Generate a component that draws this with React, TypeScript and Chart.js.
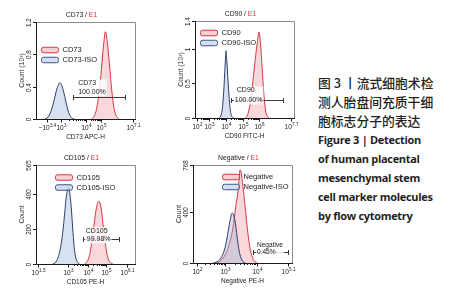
import React, { useEffect, useRef } from 'react';
import { Chart, registerables } from 'chart.js';

Chart.register(...registerables);

// ---------------- data ----------------
// x values are display channels (0-100 across the axis), y values are counts
const cd73IsoX = [9, 11, 13, 15, 17, 19, 21, 23, 24, 25, 27, 29, 31, 33, 35, 37, 39];
const cd73IsoY = [0, 0.01, 0.04, 0.09, 0.17, 0.27, 0.37, 0.43, 0.45, 0.44, 0.38, 0.28, 0.17, 0.08, 0.03, 0.005, 0];
const cd73X = [56, 58, 60, 62, 64, 66, 67.5, 69, 70, 71, 72.5, 74, 76, 78, 80, 82, 84];
const cd73Y = [0, 0.02, 0.07, 0.18, 0.36, 0.6, 0.82, 1.0, 1.08, 1.05, 0.9, 0.7, 0.42, 0.2, 0.07, 0.02, 0];
const cd73YTicks = [0, 0.4, 0.8, 1.2];
const cd73XTickPos = [11, 25.3, 50.5, 65.7, 98];
const cd73XTickLabels = ['-10^3.4', '10^3', '10^4', '10^5', '10^7.1'];
const cd73Gate = [37.7, 89.9];
const cd73GateLevel = 0.267;
const cd73GateText = ['CD73', '100.00%'];

const cd90IsoX = [24, 26, 27.5, 29, 30.5, 31.3, 32, 33.5, 35, 36.5, 38, 39];
const cd90IsoY = [0, 0.03, 0.12, 0.38, 0.78, 0.97, 0.86, 0.5, 0.2, 0.05, 0.01, 0];
const cd90X = [51, 53, 55, 57, 59, 61, 63, 64.6, 66, 67.5, 69, 70.5, 72, 74, 75];
const cd90Y = [0, 0.04, 0.15, 0.35, 0.6, 0.86, 1.1, 1.24, 1.1, 0.8, 0.45, 0.2, 0.06, 0.01, 0];
const cd90YTicks = [0, 0.5, 1, 1.4];
const cd90XTickPos = [2.3, 14, 31.3, 48.5, 64.6, 97];
const cd90XTickLabels = ['10^2', '10^3', '10^4', '10^5', '10^6', '10^7.7'];
const cd90Gate = [36, 89.2];
const cd90GateLevel = 0.255;
const cd90GateText = ['CD90', '100.00%'];

const cd105IsoX = [17, 19, 21, 23, 25, 27, 29, 30.5, 32, 33, 34, 35.5, 37, 38.5, 40, 42, 44];
const cd105IsoY = [0, 5, 20, 50, 100, 180, 290, 380, 425, 434, 410, 330, 210, 100, 40, 10, 0];
const cd105X = [49, 51, 53, 55, 57, 59, 61, 62.5, 63.6, 65, 66.5, 68, 70, 72, 74, 76, 78];
const cd105Y = [0, 8, 30, 75, 150, 240, 320, 352, 358, 342, 290, 210, 120, 50, 15, 3, 0];
const cd105YTicks = [0, 200, 400, 565];
const cd105XTickPos = [2, 32, 52.5, 70.7, 92.4];
const cd105XTickLabels = ['10^1.5', '10^3', '10^4', '10^5', '10^6.1'];
const cd105Gate = [47.2, 83.8];
const cd105GateLevel = 143;
const cd105GateText = ['CD105', '99.98%'];

const negIsoX = [20, 23, 26, 29, 32, 34, 36, 38, 39.4, 41, 42.5, 44, 45.5, 47, 49, 51, 53];
const negIsoY = [0, 5, 20, 50, 110, 180, 270, 355, 390, 378, 325, 240, 150, 80, 30, 8, 0];
const negX = [22, 25, 28, 31, 34, 37, 40, 42, 43.5, 45, 46.5, 47.5, 48.5, 50, 52, 54, 56, 58, 60, 62, 65];
const negY = [0, 5, 20, 45, 90, 160, 260, 370, 460, 530, 650, 730, 715, 630, 490, 335, 200, 100, 45, 15, 0];
const negYTicks = [0, 400, 768];
const negXTickPos = [4, 32.3, 64.6, 96];
const negXTickLabels = ['10^2', '10^3', '10^4', '10^5.1'];
const negGate = [60.9, 96.3];
const negGateLevel = 84;
const negGateText = ['Negative', '0.45%'];

const captionCn = ['图 3 丨流式细胞术检', '测人胎盘间充质干细', '胞标志分子的表达'];
const captionEn = ['Figure 3 | Detection', 'of human placental', 'mesenchymal stem', 'cell marker molecules', 'by flow cytometry'];

// ---------------- styles ----------------
const FONT = '"Liberation Sans", Arial, Helvetica, sans-serif';
const RED_LINE = '#d8353f';
const RED_FILL = 'rgba(238, 130, 140, 0.32)';
const BLUE_LINE = '#2a3d6b';
const BLUE_FILL = 'rgba(150, 175, 215, 0.38)';
const LEG_RED_FILL = 'rgba(242, 170, 176, 0.55)';
const LEG_BLUE_FILL = 'rgba(196, 210, 234, 0.7)';

interface PanelCfg {
  left: number; top: number; w: number; h: number;
  plot: [number, number, number, number];
  marker: string; xTitle: string; yTitle: string;
  yMax: number; yTicks: number[];
  xTickPos: number[]; xTickLabels: string[];
  posX: number[]; posY: number[]; isoX: number[]; isoY: number[];
  gate: number[]; gateLevel: number; gateText: string[];
  legendDx: number; legendDy: number;
  textDx: number[]; textDy: number[]; textSize: number;
}

const panels: PanelCfg[] = [
  {
    left: 0, top: 0, w: 160, h: 145, plot: [36, 22, 135, 119],
    marker: 'CD73', xTitle: 'CD73 APC-H', yTitle: 'Count (10³)',
    yMax: 1.2, yTicks: cd73YTicks, xTickPos: cd73XTickPos, xTickLabels: cd73XTickLabels,
    posX: cd73X, posY: cd73Y, isoX: cd73IsoX, isoY: cd73IsoY,
    gate: cd73Gate, gateLevel: cd73GateLevel, gateText: cd73GateText,
    legendDx: 5, legendDy: 28, textDx: [4.7, 4.7], textDy: [-14.4, -5], textSize: 7,
  },
  {
    left: 160, top: 0, w: 150, h: 145, plot: [35, 21, 134, 118],
    marker: 'CD90', xTitle: 'CD90 FITC-H', yTitle: 'Count (10³)',
    yMax: 1.4, yTicks: cd90YTicks, xTickPos: cd90XTickPos, xTickLabels: cd90XTickLabels,
    posX: cd90X, posY: cd90Y, isoX: cd90IsoX, isoY: cd90IsoY,
    gate: cd90Gate, gateLevel: cd90GateLevel, gateText: cd90GateText,
    legendDx: 5, legendDy: 12, textDx: [5.3, 3.3], textDy: [-10, 0], textSize: 7,
  },
  {
    left: 0, top: 145, w: 160, h: 155, plot: [36, 20, 135, 119],
    marker: 'CD105', xTitle: 'CD105 PE-H', yTitle: 'Count',
    yMax: 565, yTicks: cd105YTicks, xTickPos: cd105XTickPos, xTickLabels: cd105XTickLabels,
    posX: cd105X, posY: cd105Y, isoX: cd105IsoX, isoY: cd105IsoY,
    gate: cd105Gate, gateLevel: cd105GateLevel, gateText: cd105GateText,
    legendDx: 19, legendDy: 12.5, textDx: [2.3, 3.3], textDy: [-8.6, 0], textSize: 7,
  },
  {
    left: 160, top: 145, w: 150, h: 155, plot: [33, 20, 132, 118],
    marker: 'Negative', xTitle: 'Negative PE-H', yTitle: 'Count',
    yMax: 768, yTicks: negYTicks, xTickPos: negXTickPos, xTickLabels: negXTickLabels,
    posX: negX, posY: negY, isoX: negIsoX, isoY: negIsoY,
    gate: negGate, gateLevel: negGateLevel, gateText: negGateText,
    legendDx: 29, legendDy: 12, textDx: [3.4, 3.4], textDy: [-7.3, 0], textSize: 6.6,
  },
];

function drawPow(ctx: CanvasRenderingContext2D, label: string, cx: number, cy: number) {
  const parts = label.split('^');
  const b = parts[0].replace('-', '−');
  const e = parts[1] || '';
  ctx.font = `6.5px ${FONT}`;
  const wb = ctx.measureText(b).width;
  ctx.font = `4.6px ${FONT}`;
  const we = e ? ctx.measureText(e).width + 0.3 : 0;
  const x0 = cx - (wb + we) / 2;
  ctx.textAlign = 'left';
  ctx.textBaseline = 'middle';
  ctx.font = `6.5px ${FONT}`;
  ctx.fillText(b, x0, cy);
  if (e) {
    ctx.font = `4.6px ${FONT}`;
    ctx.fillText(e, x0 + wb + 0.3, cy - 2.7);
  }
}

function makePlugin(p: PanelCfg) {
  return {
    id: 'panelDeco' + p.marker,
    afterDraw(chart: any) {
      const ctx: CanvasRenderingContext2D = chart.ctx;
      const { left, right, top, bottom } = chart.chartArea;
      const xs = chart.scales.x;
      const ys = chart.scales.y;
      ctx.save();
      ctx.lineWidth = 1;
      // frame
      ctx.strokeStyle = '#8c8c8c';
      ctx.beginPath();
      ctx.moveTo(left, top + 0.5);
      ctx.lineTo(right + 0.5, top + 0.5);
      ctx.lineTo(right + 0.5, bottom);
      ctx.stroke();
      ctx.strokeStyle = '#1a1a1a';
      ctx.beginPath();
      ctx.moveTo(left + 0.5, top);
      ctx.lineTo(left + 0.5, bottom + 0.5);
      ctx.lineTo(right + 1, bottom + 0.5);
      ctx.stroke();

      ctx.fillStyle = '#1a1a1a';
      // y ticks
      p.yTicks.forEach((v) => {
        const py = Math.round(ys.getPixelForValue(v)) + 0.5;
        ctx.beginPath();
        ctx.moveTo(left - 3, py);
        ctx.lineTo(left + 0.5, py);
        ctx.stroke();
        ctx.save();
        ctx.translate(left - 6.3, py);
        ctx.rotate(-Math.PI / 2);
        ctx.font = `6.3px ${FONT}`;
        ctx.textAlign = 'center';
        ctx.textBaseline = 'middle';
        ctx.fillText(String(v), 0, 0);
        ctx.restore();
      });
      // x ticks (major + minor decade subdivisions)
      p.xTickPos.forEach((v, i) => {
        const px = Math.round(xs.getPixelForValue(v)) + 0.5;
        ctx.beginPath();
        ctx.moveTo(px, bottom + 0.5);
        ctx.lineTo(px, bottom + 3.5);
        ctx.stroke();
        drawPow(ctx, p.xTickLabels[i], px, bottom + 9.5);
        const e0 = p.xTickLabels[i].split('^')[1];
        const nxt = p.xTickLabels[i + 1];
        if (nxt && !p.xTickLabels[i].startsWith('-')) {
          const e1 = nxt.split('^')[1];
          if (e0 && e1 && Number.isInteger(Number(e0)) && Number.isInteger(Number(e1))) {
            const a = v;
            const b = p.xTickPos[i + 1];
            for (let k = 2; k <= 9; k++) {
              const mv = a + (b - a) * Math.log10(k);
              const mx = Math.round(xs.getPixelForValue(mv)) + 0.5;
              ctx.beginPath();
              ctx.moveTo(mx, bottom + 0.5);
              ctx.lineTo(mx, bottom + 2);
              ctx.stroke();
            }
          }
        }
      });
      // axis titles
      ctx.font = `6.5px ${FONT}`;
      ctx.textAlign = 'center';
      ctx.textBaseline = 'middle';
      ctx.fillText(p.xTitle, (left + right) / 2, bottom + 18.5);
      ctx.save();
      ctx.translate(left - 13.8, (top + bottom) / 2);
      ctx.rotate(-Math.PI / 2);
      ctx.font = `6.8px ${FONT}`;
      ctx.fillText(p.yTitle, 0, 0);
      ctx.restore();
      // chart title "X / E1"
      ctx.font = `6.8px ${FONT}`;
      const t1 = p.marker + ' / ';
      const t2 = 'E1';
      const w1 = ctx.measureText(t1).width;
      const w2 = ctx.measureText(t2).width;
      const tx = (left + right) / 2 - 4 - (w1 + w2) / 2;
      ctx.textAlign = 'left';
      ctx.fillStyle = '#1a1a1a';
      ctx.fillText(t1, tx, top - 6.5);
      ctx.fillStyle = '#e0303a';
      ctx.fillText(t2, tx + w1, top - 6.5);

      // legend
      const rows = [
        { label: p.marker, stroke: RED_LINE, fill: LEG_RED_FILL },
        { label: p.marker + '-ISO', stroke: '#3b5586', fill: LEG_BLUE_FILL },
      ];
      rows.forEach((r, i) => {
        const bx = left + p.legendDx + 0.5;
        const by = top + p.legendDy + i * 10;
        ctx.beginPath();
        (ctx as any).roundRect(bx, by - 2.75, 17, 5.5, 2);
        ctx.fillStyle = r.fill;
        ctx.fill();
        ctx.strokeStyle = r.stroke;
        ctx.stroke();
        ctx.fillStyle = '#1a1a1a';
        ctx.font = `7.5px ${FONT}`;
        ctx.textAlign = 'left';
        ctx.textBaseline = 'middle';
        ctx.fillText(r.label, bx + 21, by + 0.3);
      });

      // gate
      const gx1 = Math.round(xs.getPixelForValue(p.gate[0])) + 0.5;
      const gx2 = Math.round(xs.getPixelForValue(p.gate[1])) + 0.5;
      const gy = Math.round(ys.getPixelForValue(p.gateLevel)) + 0.5;
      ctx.strokeStyle = '#3a3a3a';
      ctx.beginPath();
      ctx.moveTo(gx1, gy);
      ctx.lineTo(gx2, gy);
      ctx.moveTo(gx1, gy - 2.5);
      ctx.lineTo(gx1, gy + 2.5);
      ctx.moveTo(gx2, gy - 2.5);
      ctx.lineTo(gx2, gy + 2.5);
      ctx.stroke();
      ctx.font = `${p.textSize}px ${FONT}`;
      const tws = p.gateText.map((s) => ctx.measureText(s).width);
      const bxl = gx1 + Math.min(p.textDx[0], p.textDx[1]) - 1;
      const bxr = gx1 + Math.max(p.textDx[0] + tws[0], p.textDx[1] + tws[1]) + 1;
      const byt = gy + p.textDy[0] - p.textSize * 0.55;
      const byb = gy + p.textDy[1] + p.textSize * 0.55;
      ctx.fillStyle = 'rgba(255,255,255,0.82)';
      ctx.fillRect(bxl, byt, bxr - bxl, byb - byt);
      ctx.fillStyle = '#1a1a1a';
      ctx.textAlign = 'left';
      ctx.textBaseline = 'middle';
      p.gateText.forEach((s, i) => {
        ctx.fillText(s, gx1 + p.textDx[i], gy + p.textDy[i]);
      });
      ctx.restore();
    },
  };
}

function Panel({ p }: { p: PanelCfg }) {
  const ref = useRef<HTMLCanvasElement>(null);
  useEffect(() => {
    if (!ref.current) return;
    const [pl, pt, pr, pb] = p.plot;
    const chart = new Chart(ref.current, {
      type: 'line',
      data: {
        datasets: [
          {
            label: p.marker + '-ISO',
            data: p.isoX.map((x, i) => ({ x, y: p.isoY[i] })),
            borderColor: BLUE_LINE,
            backgroundColor: BLUE_FILL,
            fill: 'origin',
            borderWidth: 1,
            pointRadius: 0,
            cubicInterpolationMode: 'monotone',
          },
          {
            label: p.marker,
            data: p.posX.map((x, i) => ({ x, y: p.posY[i] })),
            borderColor: RED_LINE,
            backgroundColor: RED_FILL,
            fill: 'origin',
            borderWidth: 1,
            pointRadius: 0,
            cubicInterpolationMode: 'monotone',
          },
        ],
      },
      options: {
        animation: false,
        responsive: false,
        maintainAspectRatio: false,
        devicePixelRatio: 1,
        layout: { padding: { left: pl, top: pt, right: p.w - pr, bottom: p.h - pb } },
        scales: {
          x: { type: 'linear', min: 0, max: 100, display: false },
          y: { type: 'linear', min: 0, max: p.yMax, display: false },
        },
        plugins: { legend: { display: false }, tooltip: { enabled: false } },
        events: [],
      },
      plugins: [makePlugin(p)],
    } as any);
    return () => chart.destroy();
  }, [p]);
  return (
    <canvas
      ref={ref}
      width={p.w}
      height={p.h}
      style={{ position: 'absolute', left: p.left, top: p.top, width: p.w, height: p.h }}
    />
  );
}

const cnCenters = [83, 102, 120.5];
const enCenters = [140, 159, 178, 197, 215.5];

export default function App() {
  return (
    <div style={{ position: 'absolute', left: 0, top: 0, width: 449, height: 300, background: '#fff', overflow: 'hidden' }}>
      {panels.map((p) => (
        <Panel key={p.marker} p={p} />
      ))}
      {captionCn.map((s, i) => (
        <div
          key={'cn' + i}
          style={{
            position: 'absolute', left: 318, top: cnCenters[i] - 9, height: 18, lineHeight: '18px',
            fontFamily: '"Noto Sans CJK SC", sans-serif', fontSize: 12.8, fontWeight: 500,
            color: '#231f20', whiteSpace: 'nowrap',
          }}
        >
          {s}
        </div>
      ))}
      {captionEn.map((s, i) => (
        <div
          key={'en' + i}
          style={{
            position: 'absolute', left: 318, top: enCenters[i] - 9, height: 18, lineHeight: '18px',
            fontFamily: '"Open Sans", sans-serif', fontSize: 11, fontWeight: 700, letterSpacing: '-0.3px',
            color: '#231f20', whiteSpace: 'nowrap',
          }}
        >
          {s}
        </div>
      ))}
    </div>
  );
}
